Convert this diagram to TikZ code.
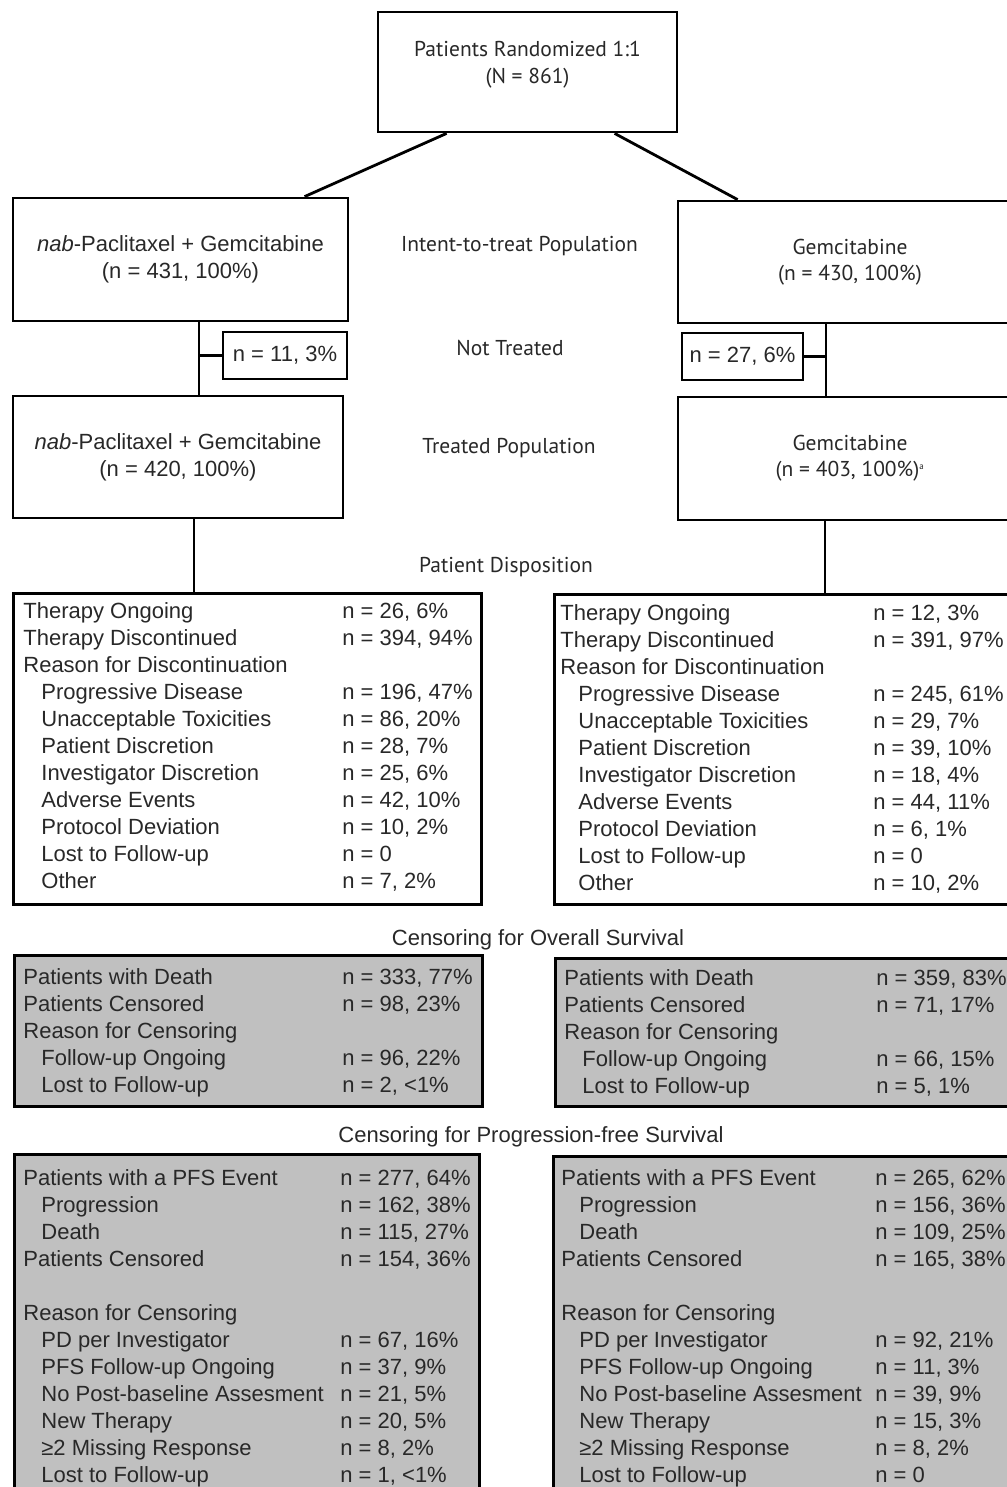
\documentclass[tikz,border=0pt]{standalone}
\usepackage{fontspec}
\setmainfont{Liberation Sans}
\newfontfamily\myriad{PT Sans}
\usepackage{tikz}
\usetikzlibrary{positioning, calc}

\definecolor{boxgray}{RGB}{192,192,192}
\definecolor{txt}{RGB}{40,40,40}
\newcommand{\ind}{\hspace*{18pt}}
\newcommand{\tabsize}{\fontsize{22}{27}\selectfont}
\newcommand{\labsize}{\fontsize{21.5}{26}\selectfont}

\begin{document}
\begin{tikzpicture}[x=1pt,y=-1pt,line width=2.8pt,
	main box/.style={draw,rectangle,inner sep=0pt,align=center,text=txt,font=\tabsize,text=txt},
	small box/.style={draw,rectangle,inner sep=0pt,minimum height=47pt,font=\tabsize,text=txt},
	table box/.style={draw,rectangle,inner sep=0pt,anchor=north west},
	gray box/.style={table box,fill=boxgray},
	label/.style={font=\myriad\labsize,text=txt,align=center,inner sep=0pt},
	sec label/.style={font=\tabsize,text=txt,inner sep=0pt},
	rows/.style={anchor=base west,inner sep=0pt,font=\tabsize,text=txt}]
	
	\useasboundingbox (0,0) rectangle (1006,1487);
	
	% randomisation and arms
	\node[main box,minimum width=299pt,minimum height=120pt] (rand) at (527.5,72) {};
	\node[label] (randtxt) at (527.5,65) {Patients Randomized 1:1\\[1pt](N = 861)};
	
	\node[main box,minimum width=335pt,minimum height=123pt] (ittL) at (180.5,259.5)
		{\textit{nab}-Paclitaxel + Gemcitabine\\(n = 431, 100\%)};
	\node[main box,minimum width=344pt,minimum height=122pt,font=\myriad\labsize] (ittR) at (850,262)
		{Gemcitabine\\(n = 430, 100\%)};
	\node[small box,minimum width=124pt] (ntL) at (285,355.5) {n = 11, 3\%};
	\node[small box,minimum width=121pt] (ntR) at (742.5,356.5) {n = 27, 6\%};
	\node[main box,minimum width=330pt,minimum height=122pt] (treatL) at (178,457)
		{\textit{nab}-Paclitaxel + Gemcitabine\\(n = 420, 100\%)};
	\node[main box,minimum width=344pt,minimum height=123pt,font=\myriad\labsize] (treatR) at (850,458.5)
		{Gemcitabine\\(n = 403, 100\%)\textsuperscript{\fontsize{9}{9}\selectfont a}};
	
	\node[label] (itt) at (519.5,246) {Intent-to-treat Population};
	\node[label] (nottr) at (510,348) {Not Treated};
	\node[label] (trpop) at (509,448) {Treated Population};
	\node[label] (dispo) at (506,567) {Patient Disposition};
	
	\coordinate (xl1) at (199,0);
	\coordinate (xl2) at (194,0);
	\coordinate (xr1) at (826,0);
	\coordinate (xr2) at (825,0);
	
	% disposition
	\node[table box,minimum width=468pt,minimum height=311pt] (dispL) at (12,592) {};
	\node[table box,minimum width=469pt,minimum height=310pt] (dispR) at (553,593) {};
	
	\node[rows] (dispLtxt) at (22,618) {\begin{tabular}[t]{@{}p{319pt}@{}l@{}}
		Therapy Ongoing & n = 26, 6\%\\
		Therapy Discontinued & n = 394, 94\%\\
		Reason for Discontinuation & \\
		\ind Progressive Disease & n = 196, 47\%\\
		\ind Unacceptable Toxicities & n = 86, 20\%\\
		\ind Patient Discretion & n = 28, 7\%\\
		\ind Investigator Discretion & n = 25, 6\%\\
		\ind Adverse Events & n = 42, 10\%\\
		\ind Protocol Deviation & n = 10, 2\%\\
		\ind Lost to Follow-up & n = 0\\
		\ind Other & n = 7, 2\%
	\end{tabular}};
	\node[rows] (dispRtxt) at (559,620) {\begin{tabular}[t]{@{}p{313pt}@{}l@{}}
		Therapy Ongoing & n = 12, 3\%\\
		Therapy Discontinued & n = 391, 97\%\\
		Reason for Discontinuation & \\
		\ind Progressive Disease & n = 245, 61\%\\
		\ind Unacceptable Toxicities & n = 29, 7\%\\
		\ind Patient Discretion & n = 39, 10\%\\
		\ind Investigator Discretion & n = 18, 4\%\\
		\ind Adverse Events & n = 44, 11\%\\
		\ind Protocol Deviation & n = 6, 1\%\\
		\ind Lost to Follow-up & n = 0\\
		\ind Other & n = 10, 2\%
	\end{tabular}};
	
	% overall survival
	\node[sec label] (oscap) at (538,940) {Censoring for Overall Survival};
	\node[gray box,minimum width=468pt,minimum height=151pt] (osL) at (13,954) {};
	\node[gray box,minimum width=468pt,minimum height=148pt] (osR) at (554,957) {};
	
	\node[rows] (osLtxt) at (22,984) {\begin{tabular}[t]{@{}p{319pt}@{}l@{}}
		Patients with Death & n = 333, 77\%\\
		Patients Censored & n = 98, 23\%\\
		Reason for Censoring & \\
		\ind Follow-up Ongoing & n = 96, 22\%\\
		\ind Lost to Follow-up & n = 2, <1\%
	\end{tabular}};
	\node[rows] (osRtxt) at (563,985) {\begin{tabular}[t]{@{}p{312pt}@{}l@{}}
		Patients with Death & n = 359, 83\%\\
		Patients Censored & n = 71, 17\%\\
		Reason for Censoring & \\
		\ind Follow-up Ongoing & n = 66, 15\%\\
		\ind Lost to Follow-up & n = 5, 1\%
	\end{tabular}};
	
	% progression-free survival
	\node[sec label] (pfscap) at (531,1137) {Censoring for Progression-free Survival};
	\node[gray box,minimum width=465pt,minimum height=400pt] (pfsL) at (13,1153) {};
	\node[gray box,minimum width=470pt,minimum height=400pt] (pfsR) at (552,1155) {};
	
	\node[rows] (pfsLtxt) at (22,1185) {\begin{tabular}[t]{@{}p{317pt}@{}l@{}}
		Patients with a PFS Event & n = 277, 64\%\\
		\ind Progression & n = 162, 38\%\\
		\ind Death & n = 115, 27\%\\
		Patients Censored & n = 154, 36\%\\
		& \\
		Reason for Censoring & \\
		\ind PD per Investigator & n = 67, 16\%\\
		\ind PFS Follow-up Ongoing & n = 37, 9\%\\
		\ind No Post-baseline Assesment & n = 21, 5\%\\
		\ind New Therapy & n = 20, 5\%\\
		\ind ≥2 Missing Response & n = 8, 2\%\\
		\ind Lost to Follow-up & n = 1, <1\%
	\end{tabular}};
	\node[rows] (pfsRtxt) at (560,1185) {\begin{tabular}[t]{@{}p{314pt}@{}l@{}}
		Patients with a PFS Event & n = 265, 62\%\\
		\ind Progression & n = 156, 36\%\\
		\ind Death & n = 109, 25\%\\
		Patients Censored & n = 165, 38\%\\
		& \\
		Reason for Censoring & \\
		\ind PD per Investigator & n = 92, 21\%\\
		\ind PFS Follow-up Ongoing & n = 11, 3\%\\
		\ind No Post-baseline Assesment & n = 39, 9\%\\
		\ind New Therapy & n = 15, 3\%\\
		\ind ≥2 Missing Response & n = 8, 2\%\\
		\ind Lost to Follow-up & n = 0
	\end{tabular}};
	
	% connectors
	\draw ($(rand.south west)+(70,0)$) -- ($(ittL.north west)+(293,0)$);
	\draw ($(rand.south west)+(238,0)$) -- ($(ittR.north west)+(61,0)$);
	\draw (ittL.south -| xl1) -- (treatL.north -| xl1);
	\draw (ntL.west) -- (ntL.west -| xl1);
	\draw (ittR.south -| xr1) -- (treatR.north -| xr1);
	\draw (ntR.east) -- (ntR.east -| xr1);
	\draw (treatL.south -| xl2) -- (dispL.north -| xl2);
	\draw (treatR.south -| xr2) -- (dispR.north -| xr2);
\end{tikzpicture}
\end{document}
